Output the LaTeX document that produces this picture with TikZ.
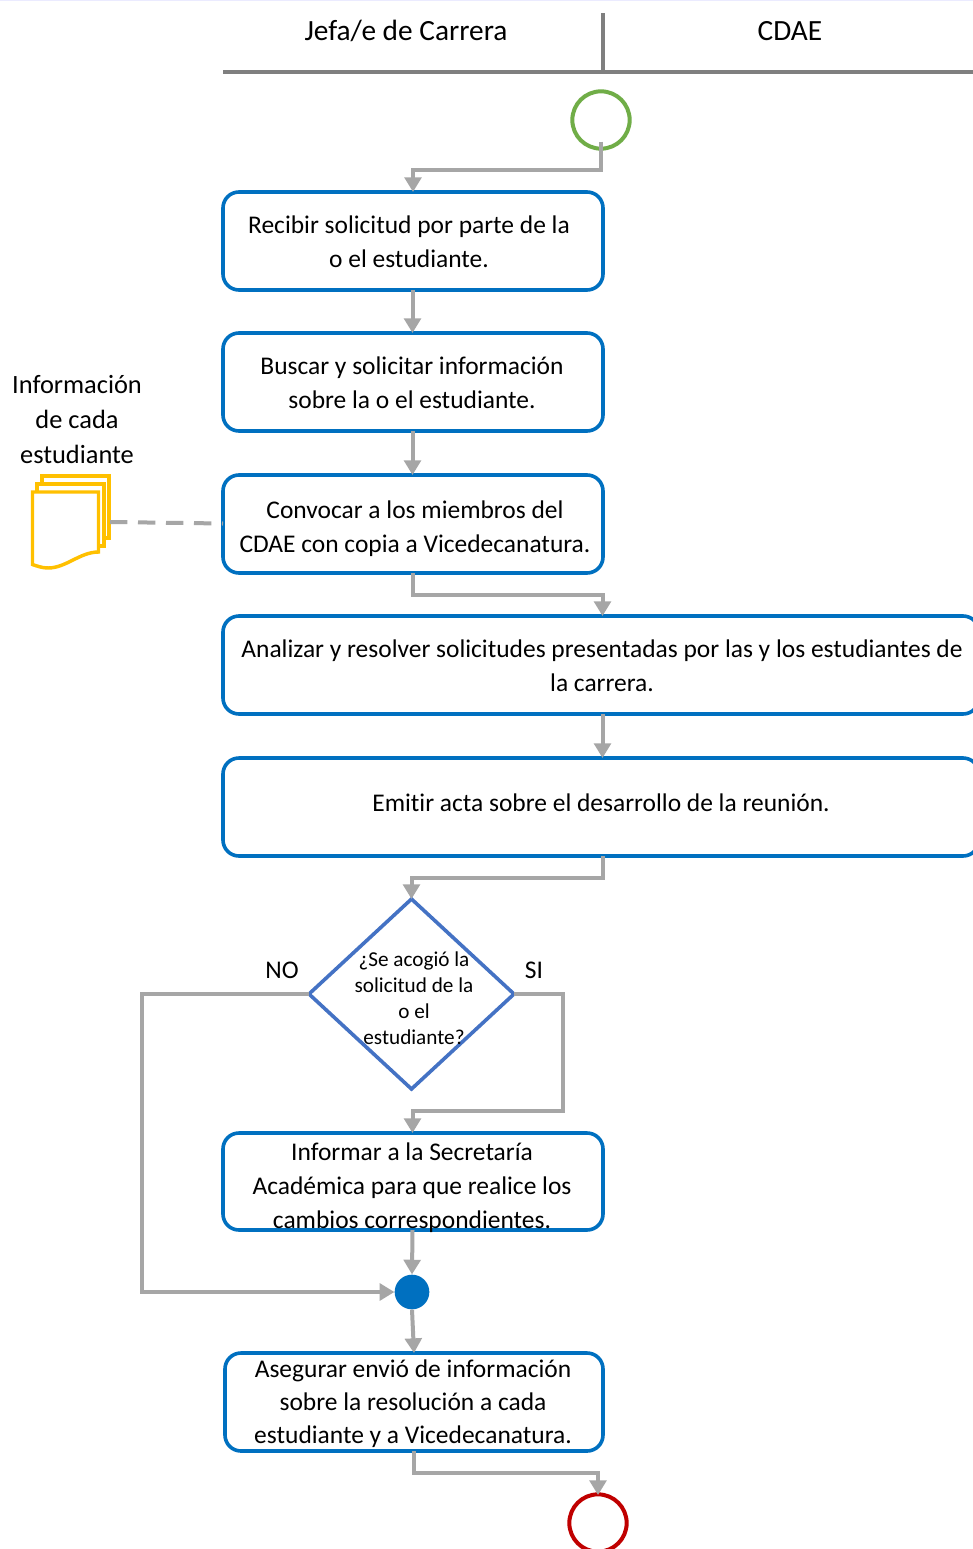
\documentclass[tikz,border=0pt]{standalone}
\usepackage{fontspec}
\setmainfont{Carlito}[Ligatures=NoCommon]
\usetikzlibrary{shapes.geometric,arrows.meta,calc}
\definecolor{bl}{HTML}{0070C0}
\definecolor{gr}{HTML}{A6A6A6}
\definecolor{hd}{HTML}{7F7F7F}
\definecolor{dia}{HTML}{4472C4}
\definecolor{yl}{HTML}{FFC000}
\definecolor{gn}{HTML}{70AD47}
\definecolor{rd}{HTML}{C00000}
\tikzset{x=0.75pt,y=-0.75pt,
 txt/.style={font=\fontsize{19.1}{25.4}\selectfont,align=center,text=black,inner sep=0pt},
 proc/.style={draw=bl,line width=2.7pt,rounded corners=12pt,fill=white},
 conn/.style={draw=gr,line width=3pt,-{Triangle[length=11pt,width=12.5pt]}},
 head/.style={draw=hd,line width=2.4pt},
 doc/.style={draw=yl,line width=2.6pt,fill=white},
}
\begin{document}
\begin{tikzpicture}
\useasboundingbox (0,0) rectangle (973,1549);
\fill[white] (0,0) rectangle (973,1549);
\draw[draw=blue!8,line width=.8pt] (0,0.5) -- (973,0.5);
% header
\coordinate (hl) at (223,72); \coordinate (hr) at (973,72);
\coordinate (ht) at (603,13); \coordinate (hb) at (603,72);
\draw[head] (hl) -- (hr);
\draw[head] (ht) -- (hb);
\node[txt,font=\fontsize{22}{26}\selectfont] (h1) at (406,31) {Jefa/e de Carrera};
\node[txt,font=\fontsize{22}{26}\selectfont] (h2) at (790,31) {CDAE};
% shapes
\node[draw=gn,line width=3pt,circle,minimum size=43pt,inner sep=0pt,fill=white] (start) at (601,120) {};
\path[proc] (223,192) rectangle (603,290);
\node[txt] (t1) at (409,241.5) {Recibir solicitud por parte de la\\o el estudiante.};
\path[proc] (223,333) rectangle (603,431);
\node[txt] (t2) at (412,383) {Buscar y solicitar información\\sobre la o el estudiante.};
\path[proc] (223,475) rectangle (603,573);
\node[txt] (t3) at (415,528.5) {Convocar a los miembros del\\CDAE con copia a Vicedecanatura.};
\path[proc] (223,616) rectangle (979,714);
\node[txt] (t4) at (602,666) {Analizar y resolver solicitudes presentadas por las y los estudiantes de\\la carrera.};
\path[proc] (223,758) rectangle (979,856);
\node[txt] (t5) at (601,803) {Emitir acta sobre el desarrollo de la reunión.};
\path[proc] (223,1133) rectangle (603,1230);
\node[txt] (t6) at (412,1187.5) {Informar a la Secretaría\\Académica para que realice los\\cambios correspondientes.};
\path[proc] (225,1353) rectangle (603,1451);
\node[txt,font=\fontsize{19.1}{24.8}\selectfont] (t7) at (413,1404) {Asegurar envió de información\\sobre la resolución a cada\\estudiante y a Vicedecanatura.};
% decision
\coordinate (dt) at (411.5,899); \coordinate (dr) at (514,994); \coordinate (db) at (411.5,1089); \coordinate (dl) at (309,994);
\draw[draw=dia,line width=2.7pt,line join=miter,fill=white] (dt) -- (dr) -- (db) -- (dl) -- cycle;
\node[txt,font=\fontsize{15.9}{19.4}\selectfont] (t8) at (414,998.5) {¿Se acogió la\\solicitud de la\\o el\\estudiante?};
\node[txt,font=\fontsize{19.1}{20}\selectfont] (no) at (282,970.5) {NO};
\node[txt,font=\fontsize{19.1}{20}\selectfont] (si) at (534,970.5) {SI};
% junction and end
\node[fill=bl,circle,minimum size=26pt,inner sep=0pt] (j) at (412,1292) {};
\node[draw=rd,line width=3pt,circle,minimum size=43pt,inner sep=0pt] (end) at (598,1523) {};
% connectors
\coordinate (a1) at (601,141.5); \coordinate (a2) at (413,192);
\draw[conn] (a1) |- (413,170) -- (a2);
\coordinate (b1s) at (412.5,290); \coordinate (b1e) at (412.5,333);
\draw[conn] (b1s) -- (b1e);
\coordinate (b2s) at (412.5,431); \coordinate (b2e) at (412.5,475);
\draw[conn] (b2s) -- (b2e);
\coordinate (b3s) at (412.5,573); \coordinate (b3e) at (602.5,616);
\draw[conn] (b3s) |- (602.5,595) -- (b3e);
\coordinate (b4s) at (602.5,714); \coordinate (b4e) at (602.5,758);
\draw[conn] (b4s) -- (b4e);
\coordinate (b5s) at (603,856); \coordinate (b5e) at (411.5,899);
\draw[conn] (b5s) |- (411.5,878) -- (b5e);
\draw[conn] (dr) -- (563,994) -- (563,1111) -- (412.5,1111) -- (412.5,1133);
\draw[conn] (dl) -- (142,994) -- (142,1292) -- (j.west);
\coordinate (b6s) at (412.5,1230);
\draw[conn] (b6s) -- (j.north);
\coordinate (b7e) at (414,1353);
\draw[conn] (j.south) -- (b7e);
\coordinate (b8s) at (414,1451); \coordinate (b8e) at (598,1495);
\draw[conn] (b8s) |- (598,1473) -- (b8e);
% documents
\draw[doc] (42,476) rectangle (109,538);
\draw[doc] (37,484) rectangle (104,546);
\draw[doc] (32.5,492) -- (98.5,492) -- (98.5,552) .. controls (80,552) and (66,568) .. (48,568) .. controls (42,568) and (37,566) .. (32.5,564.5) -- cycle;
\coordinate (docr) at (110,522); \coordinate (pl) at (223,523.5);
\draw[draw=gr,line width=3pt,dash pattern=on 13pt off 8pt] (docr) -- (pl);
\node[txt,font=\fontsize{19.8}{26.2}\selectfont] (doc) at (77,419.5) {Información\\de cada\\estudiante};
\end{tikzpicture}
\end{document}
